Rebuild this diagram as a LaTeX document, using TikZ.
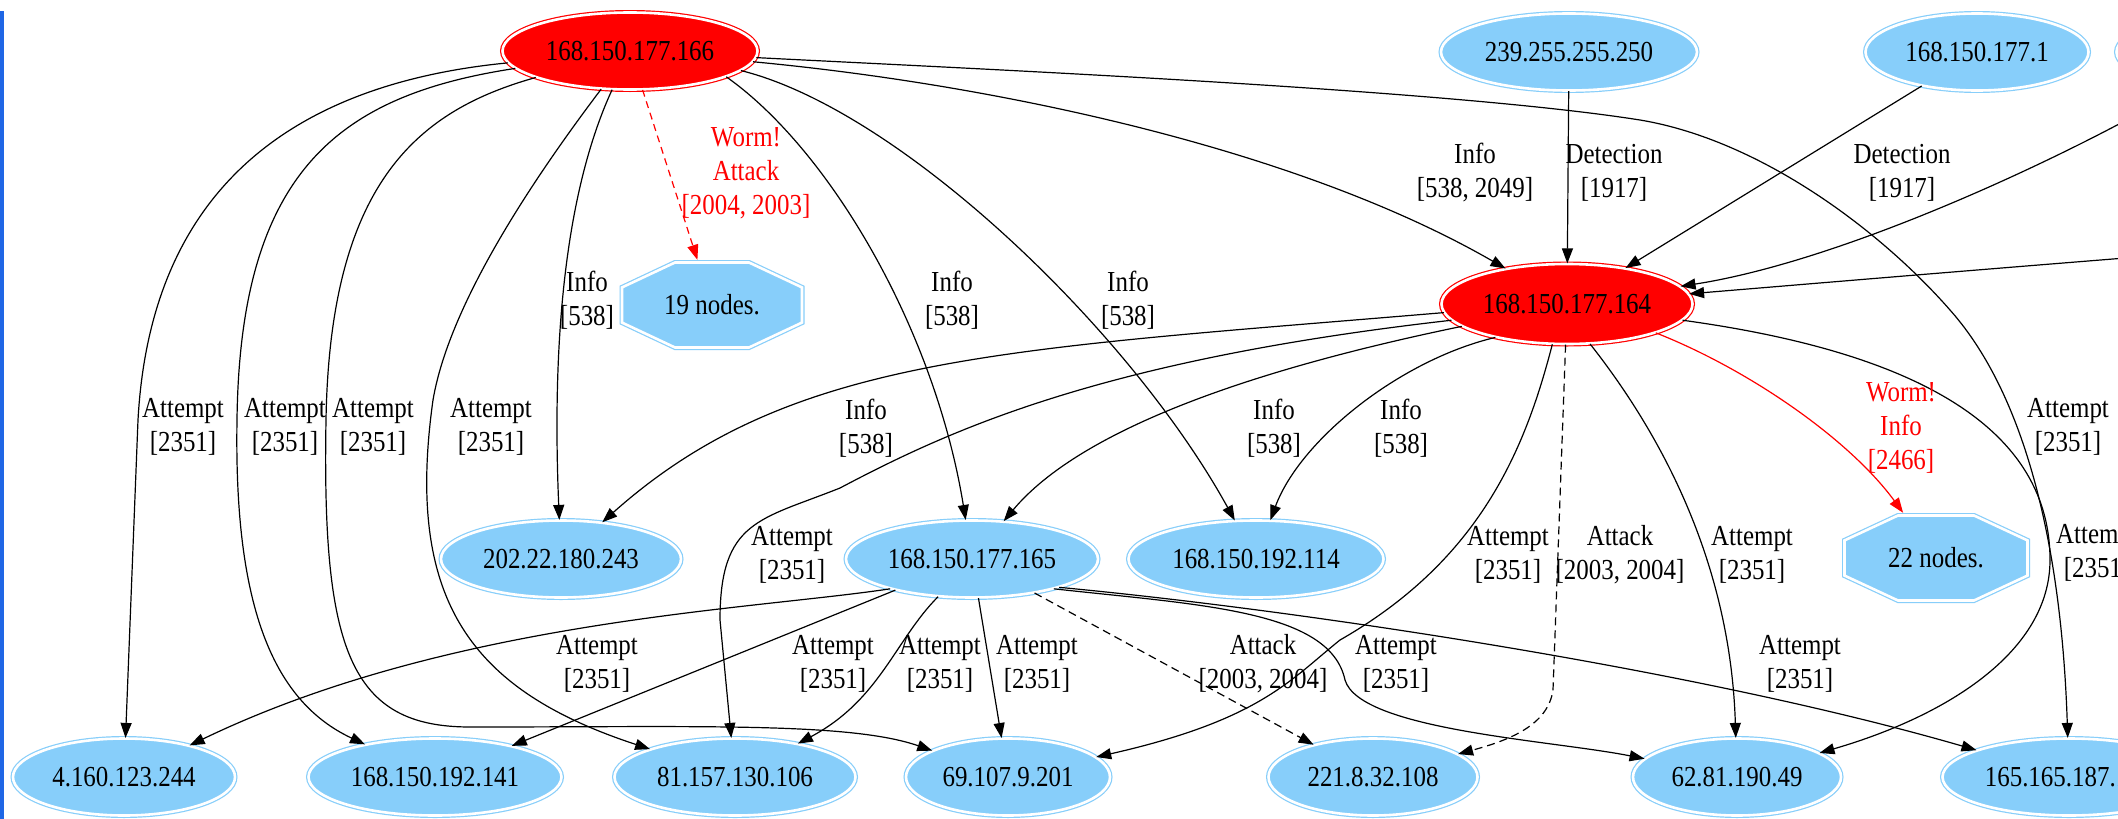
\documentclass[tikz,border=0pt]{standalone}
\usepackage{fontspec}
\setmainfont{Liberation Serif}[FakeStretch=0.86]
\usetikzlibrary{shapes.geometric,arrows.meta}
\definecolor{lsb}{HTML}{87CEFA}
\definecolor{barblue}{HTML}{1F66E5}
\newcommand\gvfont{\fontsize{29}{34}\selectfont}
\newcommand\twol[2]{#1\\{}#2}
\begin{document}
\begin{tikzpicture}[x=1pt,y=-1pt,
  ipnode/.style={ellipse, inner sep=0pt, minimum height=77pt, line width=1.2pt,
     double distance=2.6pt, font=\gvfont},
  bluenode/.style={ipnode, fill=lsb, draw=lsb, double=white},
  rednode/.style={ipnode, fill=red, draw=red, double=white},
  octnode/.style={rectangle, inner sep=0pt, minimum width=185pt, minimum height=90pt, font=\gvfont},
  octline/.style={fill=lsb, draw=lsb, double=white, line width=1.2pt, double distance=2.6pt},
  edge/.style={draw=black, line width=1.2pt, -{Triangle[length=15pt,width=11pt]}},
  dedge/.style={edge, dash pattern=on 8pt off 5pt},
  redge/.style={edge, draw=red, -{Triangle[length=15pt,width=11pt,fill=red]}, dash pattern=on 7pt off 5pt},
  rsedge/.style={edge, draw=red, -{Triangle[length=15pt,width=11pt,fill=red]}},
  lbl/.style={align=center, font=\gvfont, inner sep=0pt},
  rlbl/.style={lbl, text=red}]
\useasboundingbox (0,0) rectangle (2118,819);
\clip (0,0) rectangle (2118,819);
\fill[white] (0,0) rectangle (2118,819);
\fill[barblue] (0,11) rectangle (4,819);

% octagon outlines
\draw[octline, shift={(712,305)}] (-37,-42.5) -- (37,-42.5) -- (90,-17.6) -- (90,17.6) -- (37,42.5) -- (-37,42.5) -- (-90,17.6) -- (-90,-17.6) -- cycle;
\draw[octline, shift={(1936,558)}] (-38,-42.5) -- (38,-42.5) -- (91.5,-17.6) -- (91.5,17.6) -- (38,42.5) -- (-38,42.5) -- (-91.5,17.6) -- (-91.5,-17.6) -- cycle;

% nodes
\node[rednode, minimum width=255pt] (A) at (630,51) {168.150.177.166};
\node[bluenode, minimum width=256pt] (B) at (1569,52) {239.255.255.250};
\node[bluenode, minimum width=223pt] (C) at (1977,52) {168.150.177.1};
\node[bluenode, minimum width=255pt] (D) at (2244,52) {};
\node[rednode, minimum width=251pt, minimum height=80pt] (E) at (1567,304) {168.150.177.164};
\node[octnode] (F) at (712,305) {19 nodes.};
\node[octnode] (G) at (1936,558) {22 nodes.};
\node[bluenode, minimum width=240pt] (H) at (561,559) {202.22.180.243};
\node[bluenode, minimum width=252pt] (I) at (972,559) {168.150.177.165};
\node[bluenode, minimum width=255pt] (J) at (1256,559) {168.150.192.114};
\node[bluenode, minimum width=222pt] (K) at (124,777) {4.160.123.244};
\node[bluenode, minimum width=253pt] (L) at (435,777) {168.150.192.141};
\node[bluenode, minimum width=241pt] (M) at (735,777) {81.157.130.106};
\node[bluenode, minimum width=204pt] (N) at (1008,777) {69.107.9.201};
\node[bluenode, minimum width=209pt] (O) at (1373,777) {221.8.32.108};
\node[bluenode, minimum width=208pt] (P) at (1737,777) {62.81.190.49};
\node[bluenode, minimum width=253pt] (Q) at (2069,777) {165.165.187.100};
\coordinate (X) at (2400,236);

% edges from A
\draw[edge] (A) .. controls (280,85) and (150,200) .. (138,420) -- (K);
\draw[edge] (A) .. controls (340,95) and (240,170) .. (237,420) .. controls (234,600) and (270,700) .. (L);
\draw[edge] (A) .. controls (420,110) and (330,180) .. (326,420) .. controls (322,650) and (350,727) .. (470,727) .. controls (700,727) and (850,722) .. (N);
\draw[edge] (A) .. controls (540,170) and (450,300) .. (433,400) .. controls (405,600) and (470,690) .. (M);
\draw[edge] (A) .. controls (575,170) and (550,300) .. (H);
\draw[redge] (A) -- (F);
\draw[edge] (A.-15) .. controls (830,150) and (935,330) .. (I);
\draw[edge] (A.-10) .. controls (900,110) and (1130,330) .. (J);
\draw[edge] (A.-5) .. controls (1000,85) and (1300,150) .. (E);
\draw[edge] (A.-3) .. controls (1000,70) and (1450,90) .. (1640,120) .. controls (1760,140) and (1880,230) .. (1950,310) .. controls (2030,400) and (2062,560) .. (Q);

% edges into E
\draw[edge] (B) -- (E);
\draw[edge] (C) -- (E);
\draw[edge] (D) .. controls (2080,150) and (1850,260) .. (E);
\draw[edge] (X) .. controls (2000,268) .. (E);

% edges from E
\draw[edge] (E.184) .. controls (1000,350) and (790,355) .. (H);
\draw[edge] (E.188) .. controls (1100,360) and (950,430) .. (840,488) .. controls (760,520) and (720,520) .. (720,620) -- (M);
\draw[edge] (E.192) .. controls (1250,370) and (1080,430) .. (I);
\draw[edge] (E.205) .. controls (1400,360) and (1300,440) .. (J);
\draw[edge] (E.250) .. controls (1525,450) and (1480,560) .. (1340,640) .. controls (1290,680) and (1260,720) .. (N);
\draw[dedge] (E.268) -- (1553,690) .. controls (1548,725) and (1510,740) .. (O);
\draw[edge] (E.300) .. controls (1650,420) and (1730,550) .. (P);
\draw[rsedge] (E.-18) .. controls (1750,370) and (1850,440) .. (G);
\draw[edge] (E.-8) .. controls (1900,350) and (2050,420) .. (2050,560) .. controls (2050,650) and (1950,715) .. (P);

% edges from I
\draw[edge] (I.200) .. controls (750,610) and (450,620) .. (K);
\draw[edge] (I) -- (L);
\draw[edge] (I.228) .. controls (895,640) and (880,700) .. (M);
\draw[edge] (I) -- (N);
\draw[dedge] (I) -- (O);
\draw[edge] (I.-20) .. controls (1200,605) and (1330,610) .. (1345,680) .. controls (1360,730) and (1550,740) .. (P);
\draw[edge] (I.-18) .. controls (1300,610) and (1700,670) .. (Q);

% labels
\node[lbl] at (183,427) {\twol{Attempt}{[2351]}};
\node[lbl] at (285,427) {\twol{Attempt}{[2351]}};
\node[lbl] at (373,427) {\twol{Attempt}{[2351]}};
\node[lbl] at (491,427) {\twol{Attempt}{[2351]}};
\node[lbl] at (587,300) {\twol{Info}{[538]}};
\node[rlbl] at (746,173) {Worm!\\Attack\\{}[2004, 2003]};
\node[lbl] at (952,300) {\twol{Info}{[538]}};
\node[lbl] at (1128,300) {\twol{Info}{[538]}};
\node[lbl] at (1475,173) {\twol{Info}{[538, 2049]}};
\node[lbl] at (2068,427) {\twol{Attempt}{[2351]}};
\node[lbl] at (1614,173) {\twol{Detection}{[1917]}};
\node[lbl] at (1902,173) {\twol{Detection}{[1917]}};
\node[lbl] at (866,428) {\twol{Info}{[538]}};
\node[lbl] at (792,555) {\twol{Attempt}{[2351]}};
\node[lbl] at (1274,428) {\twol{Info}{[538]}};
\node[lbl] at (1401,428) {\twol{Info}{[538]}};
\node[lbl] at (1508,555) {\twol{Attempt}{[2351]}};
\node[lbl] at (1620,555) {\twol{Attack}{[2003, 2004]}};
\node[lbl] at (1752,555) {\twol{Attempt}{[2351]}};
\node[rlbl] at (1901,428) {Worm!\\Info\\{}[2466]};
\node[lbl] at (2097,553) {\twol{Attempt}{[2351]}};
\node[lbl] at (597,664) {\twol{Attempt}{[2351]}};
\node[lbl] at (833,664) {\twol{Attempt}{[2351]}};
\node[lbl] at (940,664) {\twol{Attempt}{[2351]}};
\node[lbl] at (1037,664) {\twol{Attempt}{[2351]}};
\node[lbl] at (1263,664) {\twol{Attack}{[2003, 2004]}};
\node[lbl] at (1396,664) {\twol{Attempt}{[2351]}};
\node[lbl] at (1800,664) {\twol{Attempt}{[2351]}};
\end{tikzpicture}
\end{document}
